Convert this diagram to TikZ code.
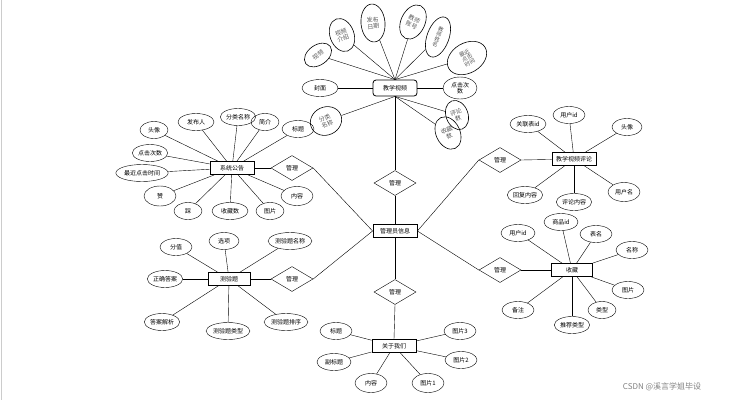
\documentclass[tikz,border=0pt]{standalone}
\usepackage{fontspec}
\newfontfamily\cjk{Noto Sans CJK SC}
\usetikzlibrary{shapes.geometric}

\tikzset{
  attr/.style={draw, ellipse, inner xsep=0.5pt, inner ysep=1pt, minimum width=28, minimum height=17, font=\cjk\fontsize{6}{6.5}\selectfont, align=center},
  rattr/.style={attr, text=gray!70!black, semithick},
  ent/.style={draw, thick, rectangle, minimum width=44, minimum height=13, inner sep=1pt, font=\cjk\fontsize{6}{7}\selectfont},
  rel/.style={draw, diamond, aspect=1.7, minimum width=42, minimum height=25, inner sep=0pt, font=\cjk\fontsize{6}{7}\selectfont},
}

\begin{document}
\begin{tikzpicture}[x=1pt,y=-1pt]
    \useasboundingbox (0,0) rectangle (739,400);
    \draw[gray!40] (1,0) -- (1,400);
    \begin{scope}
      \clip (0,0) rectangle (739,400);
      \node[font=\cjk\fontsize{8}{9}\selectfont, anchor=south] (cut) at (140,3) {所示：};
    \end{scope}

    % centre
    \node[ent] (admin) at (395,231) {管理员信息};

    % teaching video
    \node[ent, rounded corners=3pt, minimum height=16] (tv) at (395,88) {教学视频};
    \node[attr, minimum width=36] (tv1) at (320,88) {封面};
    \node[rattr, rotate=35, minimum width=30, minimum height=20] (tv2) at (318,55) {视频};
    \node[rattr, rotate=20, minimum width=24, minimum height=34] (tv3) at (342,35) {视频\\介绍};
    \node[rattr, rotate=5, minimum width=24, minimum height=38] (tv4) at (373,23) {发布\\日期};
    \node[rattr, rotate=-25, minimum width=24, minimum height=36] (tv5) at (413,22) {教师\\账号};
    \node[rattr, rotate=-20, minimum width=22, minimum height=42, font=\cjk\fontsize{5.5}{5.5}\selectfont] (tv6) at (438,37) {教\\师\\姓\\名};
    \node[rattr, rotate=30, minimum width=42, minimum height=30, font=\cjk\fontsize{5.5}{5.5}\selectfont] (tv7) at (467,58) {最近\\点击\\时间};
    \node[attr, minimum width=34, minimum height=22] (tv8) at (460,88) {点击次\\数};
    \node[rattr, rotate=20, minimum width=22, minimum height=30] (tv9) at (457,115) {评论\\数};
    \node[rattr, rotate=25, minimum width=24, minimum height=34] (tv10) at (448,133) {收藏\\数};
    \node[rattr, rotate=25, minimum width=32, minimum height=28] (tv11) at (326,121) {分类\\名称};
    \draw (tv) -- (tv1);
    \foreach \a in {tv2,tv3,tv4,tv5,tv6,tv7}
      \draw (tv.north) -- (\a);
    \draw (tv) -- (tv8);
    \foreach \a in {tv9,tv10,tv11}
      \draw (tv.south) -- (\a);

    % notice
    \node[ent] (gg) at (232,168) {系统公告};
    \node[attr] (gg1) at (154,130) {头像};
    \node[attr, minimum width=36] (gg2) at (196,122) {发布人};
    \node[attr] (gg3) at (238,117) {分类名称};
    \node[attr] (gg4) at (265,122) {简介};
    \node[attr, minimum width=32] (gg5) at (298,129) {标题};
    \node[attr] (gg6) at (150,153) {点击次数};
    \node[attr] (gg7) at (142,173) {最近点击时间};
    \node[attr, minimum width=32, minimum height=20] (gg8) at (160,196) {赞};
    \node[attr] (gg9) at (188,211) {踩};
    \node[attr, minimum width=36] (gg10) at (230,211) {收藏数};
    \node[attr] (gg11) at (270,211) {图片};
    \node[attr, minimum width=32, minimum height=19] (gg12) at (297,196) {内容};
    \foreach \a in {1,...,12}
      \draw (gg) -- (gg\a);

    % quiz
    \node[ent, minimum width=42] (cy) at (229,279) {测验题};
    \node[attr, minimum width=32] (cy1) at (176,247) {分值};
    \node[attr, minimum width=30] (cy2) at (224,241) {选项};
    \node[attr] (cy3) at (290,241) {测验题名称};
    \node[attr] (cy4) at (165,279) {正确答案};
    \node[attr] (cy5) at (162,322) {答案解析};
    \node[attr] (cy6) at (228,331) {测验题类型};
    \node[attr] (cy7) at (286,322) {测验题排序};
    \foreach \a in {1,...,7}
      \draw (cy) -- (cy\a);

    % comments
    \node[ent] (pl) at (574,159) {教学视频评论};
    \node[attr, minimum width=36] (pl1) at (528,124) {关联表id};
    \node[attr, minimum width=32] (pl2) at (569,115) {用户id};
    \node[attr, minimum width=30] (pl3) at (627,127) {头像};
    \node[attr] (pl4) at (525,195) {回复内容};
    \node[attr] (pl5) at (574,202) {评论内容};
    \node[attr, minimum width=32, minimum height=19] (pl6) at (624,192) {用户名};
    \foreach \a in {1,...,6}
      \draw (pl) -- (pl\a);

    % favourites
    \node[ent, minimum width=41] (sc) at (572,270) {收藏};
    \node[attr, minimum width=34] (sc1) at (518,233) {用户id};
    \node[attr, minimum width=34] (sc2) at (561,222) {商品id};
    \node[attr, minimum width=32] (sc3) at (596,234) {表名};
    \node[attr, minimum width=32] (sc4) at (632,250) {名称};
    \node[attr, minimum width=32] (sc5) at (628,290) {图片};
    \node[attr] (sc6) at (602,310) {类型};
    \node[attr] (sc7) at (572,325) {推荐类型};
    \node[attr, minimum width=32] (sc8) at (518,310) {备注};
    \foreach \a in {1,...,8}
      \draw (sc) -- (sc\a);

    % about us
    \node[ent] (gy) at (394,346) {关于我们};
    \node[attr, minimum width=32] (gy1) at (336,331) {标题};
    \node[attr, minimum width=34] (gy2) at (334,362) {副标题};
    \node[attr, minimum width=32, minimum height=19] (gy3) at (371,383) {内容};
    \node[attr, minimum width=32, minimum height=19] (gy4) at (428,383) {图片1};
    \node[attr, minimum width=32] (gy5) at (461,360) {图片2};
    \node[attr, minimum width=32] (gy6) at (460,331) {图片3};
    \foreach \a in {1,...,6}
      \draw (gy) -- (gy\a);

    % relations
    \node[rel] (r0) at (395,183) {管理};
    \node[rel] (r1) at (292,168) {管理};
    \node[rel] (r2) at (292,279) {管理};
    \node[rel] (r3) at (500,160) {管理};
    \node[rel] (r4) at (500,270) {管理};
    \node[rel] (r5) at (395,292) {管理};
    \draw (tv) -- (r0.north);
    \draw (r0.south) -- (admin.north);
    \draw (gg) -- (r1.west);
    \draw (r1.east) -- (admin.west);
    \draw (cy) -- (r2.west);
    \draw (r2.east) -- (admin.west);
    \draw (admin.east) -- (r3.west);
    \draw (r3.east) -- (pl);
    \draw (admin.east) -- (r4.west);
    \draw (r4.east) -- (sc);
    \draw (admin.south) -- (r5.north);
    \draw (r5.south) -- (gy.north);

    \node[text=gray, font=\cjk\fontsize{8}{9}\selectfont] (mark) at (662,387) {CSDN @溪言学姐毕设};
\end{tikzpicture}
\end{document}
